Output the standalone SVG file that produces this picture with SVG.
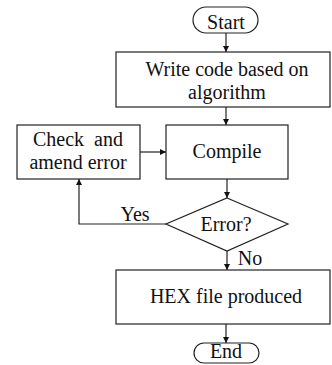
<svg xmlns="http://www.w3.org/2000/svg" width="332" height="365" viewBox="0 0 332 365">
  <style>
    .box { fill: #fff; stroke: #222; stroke-width: 1.2; }
    .lbl { font-family: "Liberation Serif", "Times New Roman", serif; font-size: 20px; fill: #111; text-anchor: middle; }
    .edge { fill: none; stroke: #222; stroke-width: 1.2; }
  </style>
  <defs>
    <marker id="arrow" viewBox="0 0 10 10" refX="10" refY="5" markerWidth="6" markerHeight="6" markerUnits="userSpaceOnUse" orient="auto">
      <path d="M0,0 L10,5 L0,10 z" fill="#111"/>
    </marker>
  </defs>
  <rect width="332" height="365" fill="#fff"/>

  <g id="connectors">
    <path class="edge" d="M226,33 V52" marker-end="url(#arrow)"/>
    <path class="edge" d="M226,107 V125" marker-end="url(#arrow)"/>
    <path class="edge" d="M140,152 H166" marker-end="url(#arrow)"/>
    <path class="edge" d="M227,179 V198" marker-end="url(#arrow)"/>
    <path class="edge" d="M166,224 H79 V179" marker-end="url(#arrow)"/>
    <path class="edge" d="M227,251 V270" marker-end="url(#arrow)"/>
    <path class="edge" d="M226,324 V343" marker-end="url(#arrow)"/>
    <text class="lbl" x="135" y="221">Yes</text>
    <text class="lbl" x="250" y="265">No</text>
  </g>

  <g id="start">
    <rect class="box" x="193" y="7" width="65" height="26" rx="13"/>
    <text class="lbl" x="226" y="29">Start</text>
  </g>

  <g id="write">
    <rect class="box" x="116" y="52" width="214" height="55"/>
    <text class="lbl" x="227" y="76">Write code based on</text>
    <text class="lbl" x="227" y="99">algorithm</text>
  </g>

  <g id="check">
    <rect class="box" x="17" y="125" width="123" height="54"/>
    <text class="lbl" x="78" y="146" xml:space="preserve">Check  and</text>
    <text class="lbl" x="78" y="169">amend error</text>
  </g>

  <g id="compile">
    <rect class="box" x="166" y="125" width="122" height="54"/>
    <text class="lbl" x="227" y="158">Compile</text>
  </g>

  <g id="error">
    <polygon class="box" points="227,198 288,224 227,251 166,224"/>
    <text class="lbl" x="226" y="231">Error?</text>
  </g>

  <g id="hex">
    <rect class="box" x="116" y="270" width="214" height="54"/>
    <text class="lbl" x="226" y="303">HEX file produced</text>
  </g>

  <g id="end">
    <rect class="box" x="194" y="343" width="65" height="20" rx="10"/>
    <text class="lbl" x="226" y="358">End</text>
  </g>
</svg>
